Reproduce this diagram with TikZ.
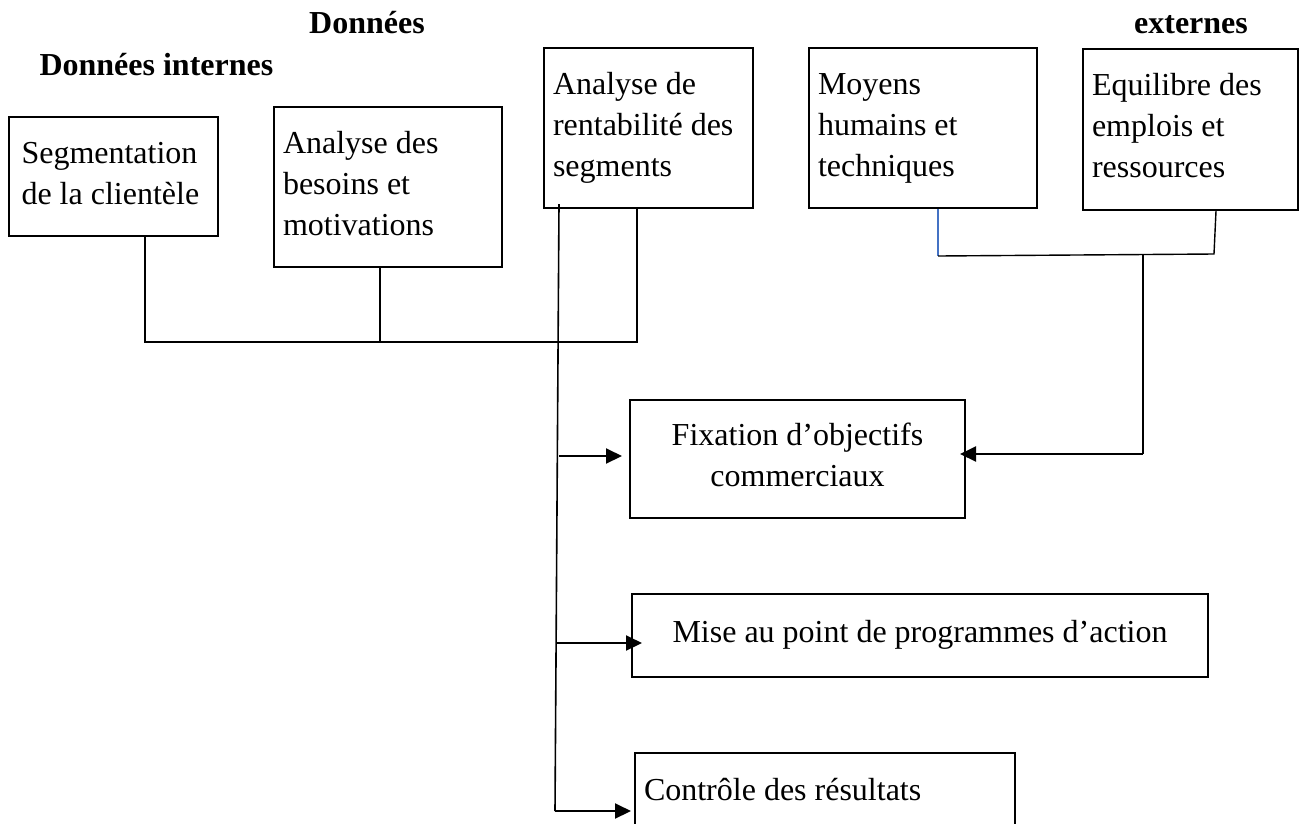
\documentclass[tikz,border=0pt]{standalone}
\usepackage{fontspec}
\setmainfont{Liberation Serif}
\usetikzlibrary{arrows.meta}
\definecolor{bleu}{RGB}{68,114,196}
\newcommand\etai{\rule[-9pt]{0pt}{32pt}}

\begin{document}
\begin{tikzpicture}[x=1pt,y=-1pt,
  boite/.style={draw,line width=2pt,anchor=north west,inner xsep=9pt,align=flush left,
    font=\fontsize{32}{41}\selectfont,
    execute at begin node=\etai,execute at end node=\etai},
  titre/.style={anchor=base,font=\fontsize{32}{38}\selectfont\bfseries},
  lien/.style={line width=1.4pt},
  fleche/.style={line width=2pt,-{Triangle[length=16pt,width=15pt]}}]
  \useasboundingbox (0,0) rectangle (1299,823);

  % titres
  \node[titre] (tdon) at (367,33) {Données};
  \node[titre,anchor=base west] (tint) at (36,75) {Données internes};
  \node[titre] (text) at (1191,33) {externes};

  % boites du haut
  \node[boite,inner xsep=13pt,text width=183pt,minimum height=119pt] (seg) at (7.5,116) {Segmentation\\de la clientèle};
  \node[boite,text width=210pt,minimum height=160pt] (besoins) at (273,106) {Analyse des\\besoins et\\motivations};
  \node[boite,text width=191pt,minimum height=160pt] (rentab) at (543,47) {Analyse de\\rentabilité des\\segments};
  \node[boite,text width=210pt,minimum height=160pt] (moyens) at (808,47) {Moyens\\humains et\\techniques};
  \node[boite,text width=197pt,minimum height=161pt] (equil) at (1082,48) {Equilibre des\\emplois et\\ressources};

  % boites du bas
  \node[boite,align=flush center,text width=317pt,minimum height=118pt] (fix) at (629,399) {Fixation d’objectifs\\commerciaux};
  \node[boite,align=flush center,text width=558pt,minimum height=83pt] (mise) at (631,593) {Mise au point de programmes d’action};
  \node[boite,text width=362pt,minimum height=80pt] (ctrl) at (634,752) {Contrôle des résultats};

  % donnees internes
  \coordinate (j1) at (145,342);
  \coordinate (j2) at (380,342);
  \coordinate (j3) at (637,342);
  \draw[lien] (seg.south -| j1) -- (j1) -- (j3) -- (rentab.south -| j3);
  \draw[lien] (besoins.south -| j2) -- (j2);

  % donnees externes
  \coordinate (k1) at (938,256);
  \coordinate (k2) at (1214,254);
  \coordinate (k3) at (1143,255);
  \coordinate (k4) at (1143,454);
  \draw[lien,bleu] (moyens.south -| k1) -- (k1);
  \draw[lien] (k1) -- (k2) -- ([xshift=2pt]equil.south -| k2);
  \draw[lien] (k3) -- (k4);
  \draw[fleche] (k4) -- ([xshift=-6pt]fix.east |- k4);

  % tronc vers les actions
  \coordinate (t1) at (559,204);
  \coordinate (a1) at (559,456);
  \coordinate (a2) at (557,643);
  \coordinate (t2) at (555,811);
  \draw[line width=1.6pt] (t1) -- (t2);
  \draw[fleche] (a1) -- ([xshift=-7pt]fix.west |- a1);
  \draw[fleche] (a2) -- ([xshift=11pt]mise.west |- a2);
  \draw[fleche] (t2) -- ([xshift=-3pt]ctrl.west |- t2);
\end{tikzpicture}
\end{document}
